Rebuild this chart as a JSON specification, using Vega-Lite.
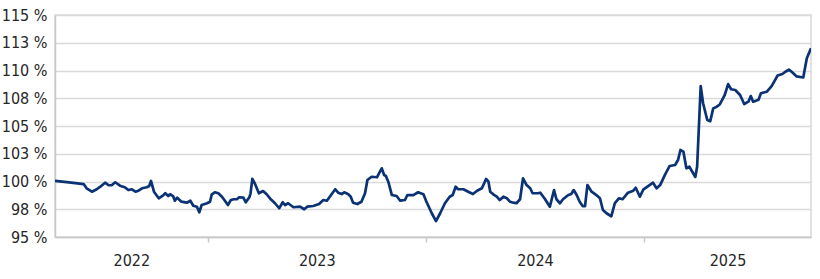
{
  "$schema": "https://vega.github.io/schema/vega-lite/v6.json",
  "width": 756,
  "height": 222,
  "autosize": {"type": "none"},
  "padding": {"left": 55, "top": 15, "right": 9, "bottom": 42},
  "background": "white",
  "config": {
    "view": {"stroke": "#d9d9d9", "strokeWidth": 1.5},
    "font": "Liberation Sans Narrow, DejaVu Sans Condensed, sans-serif"
  },
  "data": {
    "values": [
      {"date": "2022-04-19", "value": 100.05},
      {"date": "2022-05-09", "value": 99.95},
      {"date": "2022-05-23", "value": 99.86},
      {"date": "2022-06-06", "value": 99.77},
      {"date": "2022-06-11", "value": 99.39},
      {"date": "2022-06-20", "value": 99.08},
      {"date": "2022-06-28", "value": 99.30},
      {"date": "2022-07-04", "value": 99.53},
      {"date": "2022-07-12", "value": 99.89},
      {"date": "2022-07-18", "value": 99.66},
      {"date": "2022-07-23", "value": 99.66},
      {"date": "2022-07-29", "value": 99.93},
      {"date": "2022-08-06", "value": 99.62},
      {"date": "2022-08-14", "value": 99.48},
      {"date": "2022-08-20", "value": 99.23},
      {"date": "2022-08-26", "value": 99.30},
      {"date": "2022-09-01", "value": 99.08},
      {"date": "2022-09-06", "value": 99.17},
      {"date": "2022-09-12", "value": 99.39},
      {"date": "2022-09-20", "value": 99.48},
      {"date": "2022-09-24", "value": 99.59},
      {"date": "2022-09-27", "value": 100.05},
      {"date": "2022-10-02", "value": 99.08},
      {"date": "2022-10-10", "value": 98.49},
      {"date": "2022-10-18", "value": 98.78},
      {"date": "2022-10-21", "value": 98.94},
      {"date": "2022-10-26", "value": 98.69},
      {"date": "2022-10-29", "value": 98.85},
      {"date": "2022-11-03", "value": 98.69},
      {"date": "2022-11-06", "value": 98.27},
      {"date": "2022-11-10", "value": 98.54},
      {"date": "2022-11-17", "value": 98.18},
      {"date": "2022-11-26", "value": 98.09},
      {"date": "2022-12-02", "value": 98.27},
      {"date": "2022-12-07", "value": 97.82},
      {"date": "2022-12-13", "value": 97.73},
      {"date": "2022-12-17", "value": 97.23},
      {"date": "2022-12-21", "value": 97.88},
      {"date": "2022-12-30", "value": 98.04},
      {"date": "2023-01-04", "value": 98.18},
      {"date": "2023-01-07", "value": 98.85},
      {"date": "2023-01-12", "value": 99.03},
      {"date": "2023-01-18", "value": 98.94},
      {"date": "2023-01-24", "value": 98.63},
      {"date": "2023-01-29", "value": 98.27},
      {"date": "2023-02-03", "value": 97.88},
      {"date": "2023-02-08", "value": 98.33},
      {"date": "2023-02-13", "value": 98.40},
      {"date": "2023-02-18", "value": 98.40},
      {"date": "2023-02-22", "value": 98.58},
      {"date": "2023-03-01", "value": 98.54},
      {"date": "2023-03-05", "value": 98.13},
      {"date": "2023-03-11", "value": 98.58},
      {"date": "2023-03-13", "value": 98.94},
      {"date": "2023-03-16", "value": 100.23},
      {"date": "2023-03-20", "value": 99.84},
      {"date": "2023-03-27", "value": 98.94},
      {"date": "2023-04-03", "value": 99.14},
      {"date": "2023-04-09", "value": 98.85},
      {"date": "2023-04-15", "value": 98.45},
      {"date": "2023-04-23", "value": 98.04},
      {"date": "2023-04-30", "value": 97.59},
      {"date": "2023-05-06", "value": 98.13},
      {"date": "2023-05-10", "value": 97.88},
      {"date": "2023-05-15", "value": 98.04},
      {"date": "2023-05-24", "value": 97.68},
      {"date": "2023-06-04", "value": 97.73},
      {"date": "2023-06-11", "value": 97.50},
      {"date": "2023-06-16", "value": 97.73},
      {"date": "2023-06-26", "value": 97.79},
      {"date": "2023-07-06", "value": 97.97},
      {"date": "2023-07-13", "value": 98.33},
      {"date": "2023-07-19", "value": 98.27},
      {"date": "2023-07-26", "value": 98.78},
      {"date": "2023-08-02", "value": 99.30},
      {"date": "2023-08-07", "value": 98.99},
      {"date": "2023-08-13", "value": 98.87},
      {"date": "2023-08-17", "value": 99.03},
      {"date": "2023-08-24", "value": 98.85},
      {"date": "2023-08-28", "value": 98.63},
      {"date": "2023-09-01", "value": 98.09},
      {"date": "2023-09-08", "value": 97.97},
      {"date": "2023-09-15", "value": 98.18},
      {"date": "2023-09-21", "value": 98.94},
      {"date": "2023-09-25", "value": 100.14},
      {"date": "2023-10-02", "value": 100.43},
      {"date": "2023-10-11", "value": 100.38},
      {"date": "2023-10-16", "value": 100.88},
      {"date": "2023-10-19", "value": 101.19},
      {"date": "2023-10-23", "value": 100.59},
      {"date": "2023-10-26", "value": 100.50},
      {"date": "2023-10-30", "value": 99.98},
      {"date": "2023-11-05", "value": 98.78},
      {"date": "2023-11-13", "value": 98.69},
      {"date": "2023-11-19", "value": 98.27},
      {"date": "2023-11-27", "value": 98.33},
      {"date": "2023-12-01", "value": 98.78},
      {"date": "2023-12-11", "value": 98.78},
      {"date": "2023-12-19", "value": 99.03},
      {"date": "2023-12-28", "value": 98.85},
      {"date": "2024-01-02", "value": 98.18},
      {"date": "2024-01-11", "value": 97.14},
      {"date": "2024-01-18", "value": 96.44},
      {"date": "2024-01-25", "value": 97.14},
      {"date": "2024-02-02", "value": 98.04},
      {"date": "2024-02-10", "value": 98.63},
      {"date": "2024-02-15", "value": 98.78},
      {"date": "2024-02-20", "value": 99.53},
      {"date": "2024-02-24", "value": 99.30},
      {"date": "2024-03-04", "value": 99.30},
      {"date": "2024-03-12", "value": 99.08},
      {"date": "2024-03-20", "value": 98.87},
      {"date": "2024-03-27", "value": 99.17},
      {"date": "2024-04-04", "value": 99.39},
      {"date": "2024-04-11", "value": 100.23},
      {"date": "2024-04-15", "value": 99.98},
      {"date": "2024-04-18", "value": 99.08},
      {"date": "2024-04-23", "value": 98.85},
      {"date": "2024-04-29", "value": 98.63},
      {"date": "2024-05-04", "value": 98.33},
      {"date": "2024-05-10", "value": 98.63},
      {"date": "2024-05-16", "value": 98.49},
      {"date": "2024-05-21", "value": 98.18},
      {"date": "2024-05-27", "value": 98.09},
      {"date": "2024-06-01", "value": 98.04},
      {"date": "2024-06-07", "value": 98.40},
      {"date": "2024-06-12", "value": 100.29},
      {"date": "2024-06-18", "value": 99.68},
      {"date": "2024-06-24", "value": 99.39},
      {"date": "2024-06-28", "value": 98.94},
      {"date": "2024-07-07", "value": 98.94},
      {"date": "2024-07-11", "value": 98.99},
      {"date": "2024-07-19", "value": 98.40},
      {"date": "2024-07-27", "value": 97.73},
      {"date": "2024-08-03", "value": 99.23},
      {"date": "2024-08-07", "value": 98.40},
      {"date": "2024-08-13", "value": 98.04},
      {"date": "2024-08-18", "value": 98.40},
      {"date": "2024-08-27", "value": 98.78},
      {"date": "2024-09-01", "value": 98.87},
      {"date": "2024-09-05", "value": 99.23},
      {"date": "2024-09-10", "value": 98.78},
      {"date": "2024-09-15", "value": 98.18},
      {"date": "2024-09-20", "value": 97.79},
      {"date": "2024-09-24", "value": 97.79},
      {"date": "2024-09-28", "value": 99.68},
      {"date": "2024-10-05", "value": 99.08},
      {"date": "2024-10-13", "value": 98.78},
      {"date": "2024-10-19", "value": 98.49},
      {"date": "2024-10-24", "value": 97.43},
      {"date": "2024-10-30", "value": 97.14},
      {"date": "2024-11-07", "value": 96.86},
      {"date": "2024-11-13", "value": 98.06},
      {"date": "2024-11-20", "value": 98.49},
      {"date": "2024-11-26", "value": 98.40},
      {"date": "2024-12-05", "value": 98.99},
      {"date": "2024-12-14", "value": 99.17},
      {"date": "2024-12-18", "value": 99.44},
      {"date": "2024-12-25", "value": 98.63},
      {"date": "2024-12-31", "value": 99.30},
      {"date": "2025-01-05", "value": 99.48},
      {"date": "2025-01-16", "value": 99.89},
      {"date": "2025-01-22", "value": 99.39},
      {"date": "2025-01-28", "value": 99.68},
      {"date": "2025-02-05", "value": 100.59},
      {"date": "2025-02-13", "value": 101.40},
      {"date": "2025-02-22", "value": 101.49},
      {"date": "2025-02-27", "value": 101.94},
      {"date": "2025-03-03", "value": 102.84},
      {"date": "2025-03-08", "value": 102.69},
      {"date": "2025-03-13", "value": 101.19},
      {"date": "2025-03-18", "value": 101.33},
      {"date": "2025-03-28", "value": 100.41},
      {"date": "2025-03-31", "value": 101.33},
      {"date": "2025-04-06", "value": 108.60},
      {"date": "2025-04-10", "value": 107.05},
      {"date": "2025-04-17", "value": 105.54},
      {"date": "2025-04-22", "value": 105.43},
      {"date": "2025-04-27", "value": 106.59},
      {"date": "2025-05-03", "value": 106.74},
      {"date": "2025-05-08", "value": 106.94},
      {"date": "2025-05-16", "value": 107.75},
      {"date": "2025-05-22", "value": 108.77},
      {"date": "2025-05-27", "value": 108.31},
      {"date": "2025-06-03", "value": 108.24},
      {"date": "2025-06-11", "value": 107.79},
      {"date": "2025-06-18", "value": 106.98},
      {"date": "2025-06-25", "value": 107.19},
      {"date": "2025-06-29", "value": 107.70},
      {"date": "2025-07-03", "value": 107.19},
      {"date": "2025-07-12", "value": 107.37},
      {"date": "2025-07-16", "value": 107.95},
      {"date": "2025-07-26", "value": 108.09},
      {"date": "2025-08-03", "value": 108.60},
      {"date": "2025-08-13", "value": 109.55},
      {"date": "2025-08-21", "value": 109.68},
      {"date": "2025-08-26", "value": 109.89},
      {"date": "2025-09-01", "value": 110.08},
      {"date": "2025-09-06", "value": 109.86},
      {"date": "2025-09-14", "value": 109.47},
      {"date": "2025-09-25", "value": 109.37},
      {"date": "2025-10-01", "value": 111.10},
      {"date": "2025-10-08", "value": 112.00}
    ]
  },
  "mark": {"type": "line", "color": "#0b3275", "strokeWidth": 2.7, "strokeJoin": "round", "clip": true},
  "encoding": {
    "x": {
      "field": "date",
      "type": "temporal",
      "scale": {"domain": ["2022-04-19", "2025-10-08"]},
      "axis": {
        "title": null,
        "grid": false,
        "domainColor": "#c8c8c8",
        "domainWidth": 1.5,
        "values": [
          {"year": 2022, "month": 8, "date": 25},
          {"year": 2023, "month": 1, "date": 1},
          {"year": 2023, "month": 7, "date": 2},
          {"year": 2024, "month": 1, "date": 1},
          {"year": 2024, "month": 7, "date": 2},
          {"year": 2025, "month": 1, "date": 1},
          {"year": 2025, "month": 5, "date": 21}
        ],
        "labelExpr": "month(datum.value) == 0 && date(datum.value) == 1 ? '' : timeFormat(datum.value, '%Y')",
        "tickOpacity": {"condition": {"test": "month(datum.value) == 0 && date(datum.value) == 1", "value": 1}, "value": 0},
        "tickColor": "#c8c8c8",
        "tickSize": 5,
        "tickWidth": 1.5,
        "labelFontSize": 16,
        "labelColor": "#262626",
        "labelPadding": 10,
        "labelFlush": false,
        "labelOverlap": false
      }
    },
    "y": {
      "field": "value",
      "type": "quantitative",
      "scale": {"domain": [95, 115], "nice": false, "zero": false},
      "axis": {
        "title": null,
        "values": [95, 97.5, 100, 102.5, 105, 107.5, 110, 112.5, 115],
        "labelExpr": "format(round(datum.value), 'd') + ' %'",
        "ticks": false,
        "domainColor": "#c8c8c8",
        "domainWidth": 1.5,
        "gridColor": "#dadada",
        "gridWidth": 1.5,
        "labelFontSize": 16,
        "labelColor": "#262626",
        "labelPadding": 8
      }
    }
  }
}
